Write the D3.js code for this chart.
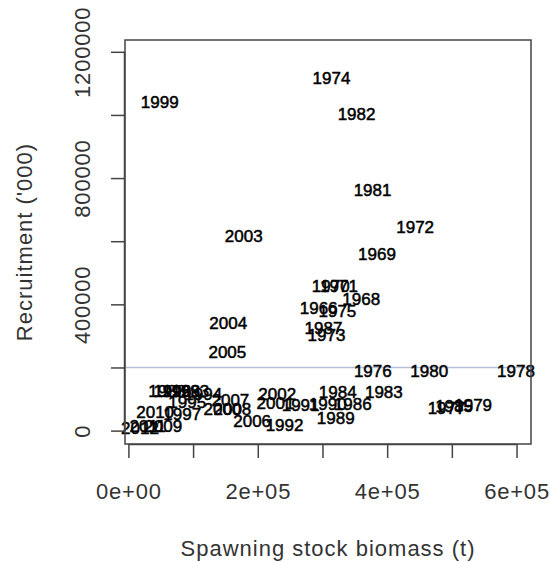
<!DOCTYPE html>
<html>
<head>
<meta charset="utf-8">
<script src="https://cdn.jsdelivr.net/npm/d3@7"></script>
<style>
  body { margin: 0; background: #fff; }
  text { font-family: "Liberation Sans", Arial, sans-serif; }
</style>
</head>
<body>
<div id="chart"></div>
<script>
// stock-recruitment data, one label per year
const years = [1966, 1968, 1969, 1970, 1971, 1972, 1973, 1974, 1975, 1976,
               1977, 1978, 1979, 1980, 1981, 1982, 1983, 1984, 1985, 1986,
               1987, 1988, 1989, 1990, 1991, 1992, 1993, 1994, 1995, 1996,
               1997, 1998, 1999, 2000, 2001, 2002, 2003, 2004, 2005, 2006,
               2007, 2008, 2009, 2010, 2011, 2012];
const ssb = [294100, 360000, 384300, 312700, 325600, 443300, 306200, 314000, 323100, 377800,
             491800, 599100, 532900, 465100, 377400, 352700, 394900, 323600, 503400, 346800,
             301600, 60000, 320500, 308100, 266200, 241400, 95700, 115800, 91000, 67900,
             83300, 81700, 48400, 145300, 227400, 230100, 178300, 154300, 153000, 191300,
             157700, 160800, 53800, 41400, 30000, 18000];
const recruits = [387300, 415900, 558700, 457100, 457100, 646700, 304800, 1117500, 377800, 190000,
                  73000, 190000, 81000, 190000, 762900, 1003200, 123800, 123800, 79400, 84100,
                  327000, 127000, 41300, 85700, 82500, 19000, 127000, 117500, 92100, 127000,
                  54000, 127000, 1042200, 69800, 88900, 117500, 616800, 341900, 248600, 29500,
                  98400, 69800, 15900, 60300, 14000, 9000];

const xTicks = [0, 1e5, 2e5, 3e5, 4e5, 5e5, 6e5];
const xTickLabels = ["0e+00", "", "2e+05", "", "4e+05", "", "6e+05"];
const yTicks = [0, 2e5, 4e5, 6e5, 8e5, 1e6, 1.2e6];
const yTickLabels = ["0", "", "400000", "", "800000", "", "1200000"];
const yLimits = [5000, 1190000];
const refLine = 200000;

const W = 550, H = 562;
const box = { left: 125, right: 531, top: 40, bottom: 444 };

const svg = d3.select("#chart").append("svg")
    .attr("width", W)
    .attr("height", H);

// R style: 4% padding on both axes
function padded(lo, hi) {
    const p = (hi - lo) * 0.04;
    return [lo - p, hi + p];
}

const x = d3.scaleLinear()
    .domain(padded(d3.min(ssb), d3.max(ssb)))
    .range([box.left, box.right]);

const y = d3.scaleLinear()
    .domain(padded(yLimits[0], yLimits[1]))
    .range([box.bottom, box.top]);

const axisCol = "#444";
const textCol = "#333";

// horizontal reference line
svg.append("line")
    .attr("x1", box.left).attr("x2", box.right)
    .attr("y1", y(refLine)).attr("y2", y(refLine))
    .attr("stroke", "#b3c0d9")
    .attr("stroke-width", 1.5);

// year labels
svg.append("g").selectAll("text")
    .data(years)
    .enter()
    .append("text")
    .attr("x", (d, i) => x(ssb[i]))
    .attr("y", (d, i) => y(recruits[i]))
    .attr("dy", "0.36em")
    .attr("text-anchor", "middle")
    .style("font-size", "17px")
    .style("fill", "#000")
    .style("stroke", "#000")
    .style("stroke-width", "0.5px")
    .text(d => d);

// box
svg.append("rect")
    .attr("x", box.left).attr("y", box.top)
    .attr("width", box.right - box.left)
    .attr("height", box.bottom - box.top)
    .attr("fill", "none")
    .attr("stroke", axisCol)
    .attr("stroke-width", 1.5);

// x axis
const xAxis = svg.append("g")
    .attr("transform", `translate(0,${box.bottom})`)
    .call(d3.axisBottom(x).tickValues(xTicks).tickSize(14).tickFormat((d, i) => xTickLabels[i]));
xAxis.select(".domain")
    .attr("d", `M${x(xTicks[0])},0.5H${x(xTicks[xTicks.length - 1])}`)
    .attr("stroke", axisCol).attr("stroke-width", 1.5);
xAxis.selectAll(".tick line").attr("stroke", axisCol).attr("stroke-width", 1.5);
xAxis.selectAll(".tick text")
    .attr("y", 55).attr("dy", 0)
    .style("font-size", "22px")
    .style("letter-spacing", "0.8px")
    .style("fill", textCol);

// y axis
const yAxis = svg.append("g")
    .attr("transform", `translate(${box.left},0)`)
    .call(d3.axisLeft(y).tickValues(yTicks).tickSize(14).tickFormat((d, i) => yTickLabels[i]));
yAxis.select(".domain")
    .attr("d", `M-0.5,${y(yTicks[0])}V${y(yTicks[yTicks.length - 1])}`)
    .attr("stroke", axisCol).attr("stroke-width", 1.5);
yAxis.selectAll(".tick line").attr("stroke", axisCol).attr("stroke-width", 1.5);
yAxis.selectAll(".tick text")
    .attr("x", null).attr("dy", null)
    .attr("text-anchor", "middle")
    .attr("transform", "translate(-35,0) rotate(-90)")
    .style("font-size", "22px")
    .style("letter-spacing", "0.8px")
    .style("fill", textCol);

// axis titles
svg.append("text")
    .attr("x", (box.left + box.right) / 2)
    .attr("y", 556)
    .attr("text-anchor", "middle")
    .style("font-size", "22px")
    .style("letter-spacing", "1px")
    .style("fill", textCol)
    .text("Spawning stock biomass (t)");

svg.append("text")
    .attr("transform", `translate(32,${(box.top + box.bottom) / 2}) rotate(-90)`)
    .attr("text-anchor", "middle")
    .style("font-size", "22px")
    .style("letter-spacing", "1px")
    .style("fill", textCol)
    .text("Recruitment ('000)");
</script>
</body>
</html>
